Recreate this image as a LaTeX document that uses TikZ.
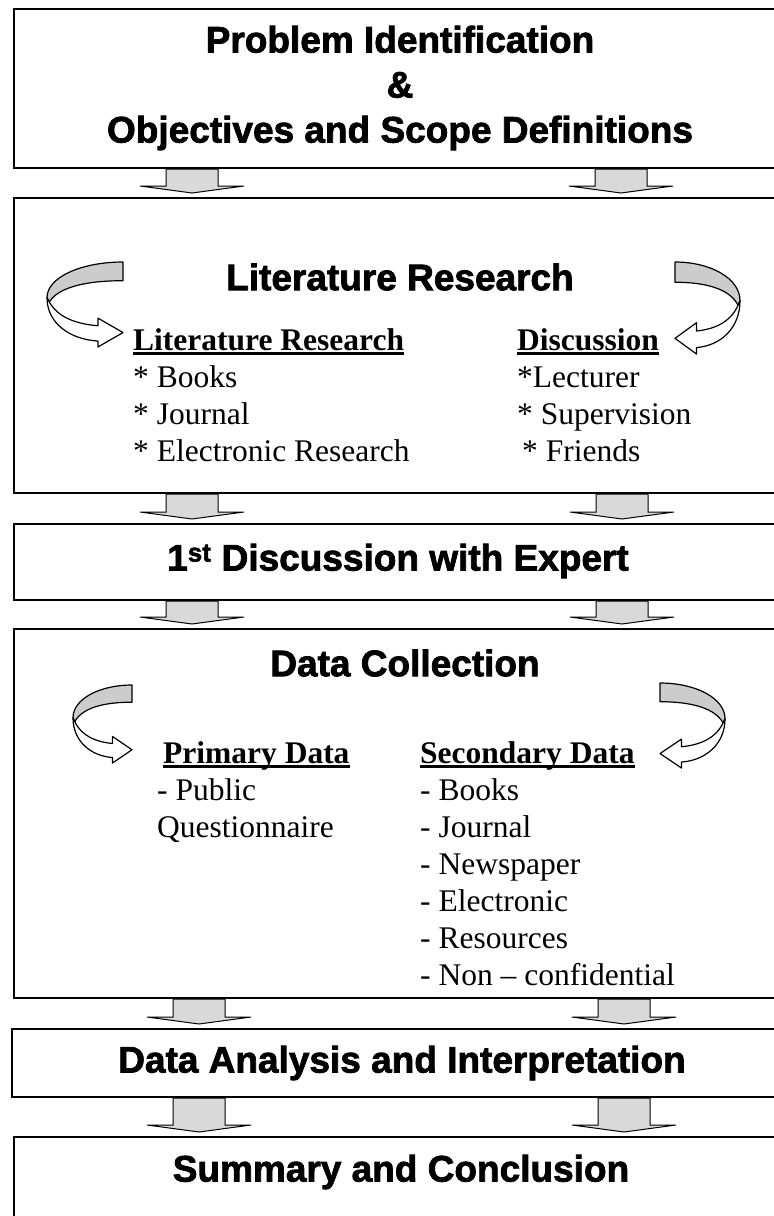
\documentclass[tikz,border=0pt]{standalone}
\usepackage{fontspec}
\setmainfont{Liberation Serif}
\newfontfamily\headfont[FakeBold=2]{Liberation Sans}
\usetikzlibrary{calc}

% underlined column heading
\newcommand{\colhead}[1]{\setbox0\hbox{\bfseries #1}\rlap{\rule[-5pt]{\wd0}{2.6pt}}\box0}

% curved ribbon arrow, #1,#2 = corner, #3,#4 = width, height (negative width mirrors it)
\newcommand{\turnarrow}[4]{%
  \begin{scope}[shift={(#1,#2)},xscale=#3,yscale=#4]
    \fill[ribbon] (1,0) .. controls (0.45,0) and (0,0.18) .. (0,0.42)
      -- (0.03,0.47) .. controls (0.15,0.3) and (0.5,0.22) .. (1,0.22) -- cycle;
    \draw[turn] (1,0) .. controls (0.45,0) and (0,0.18) .. (0,0.42)
      -- (0.03,0.47) .. controls (0.15,0.3) and (0.5,0.22) .. (1,0.22) -- cycle;
    \draw[turn,fill=white] (0.03,0.47) .. controls (0.15,0.66) and (0.4,0.73) .. (0.67,0.75)
      -- (0.67,0.66) -- (1,0.83) -- (0.67,1) -- (0.67,0.93)
      .. controls (0.3,0.91) and (0,0.72) .. (0,0.42) -- cycle;
  \end{scope}}

% block arrow from the bottom of #1 to the top of #2, at x = #3
\newcommand{\flowarrow}[3]{%
  \path[flow] let \p1=(#1.south), \p2=(#2.north) in
    (#3pt-26pt,\y1) -- (#3pt+26pt,\y1) -- (#3pt+26pt,\y2+11pt)
    -- (#3pt+52pt,\y2+11pt) -- (#3pt,\y2+4pt) -- (#3pt-52pt,\y2+11pt)
    -- (#3pt-26pt,\y2+11pt) -- cycle;}

\begin{document}
\begin{tikzpicture}[x=1pt,y=-1pt]
    \tikzstyle{stage}=[draw=black,line width=2pt,anchor=north west,inner sep=0pt]
    \tikzstyle{title}=[font=\headfont\bfseries\fontsize{37}{45}\selectfont,align=center,inner sep=0pt]
    \tikzstyle{list}=[font=\fontsize{31.5}{37}\selectfont,align=left,anchor=north west,inner sep=0pt]
    \tikzstyle{flow}=[draw=black,line width=1pt,fill=black!15,line join=miter]
    \tikzstyle{turn}=[draw=black,line width=1.2pt,line join=round]
    \tikzstyle{ribbon}=[fill=black!20]

    \useasboundingbox[fill=white] (0,0) rectangle (774,1216);
    \clip (0,0) rectangle (774,1216);

    % stages
    \node[stage,minimum width=780pt,minimum height=159pt] (define)  at (13,8) {};
    \node[stage,minimum width=780pt,minimum height=295pt] (review)  at (13,197) {};
    \node[stage,minimum width=780pt,minimum height=76pt]  (expert)  at (13,523) {};
    \node[stage,minimum width=780pt,minimum height=369pt] (collect) at (13,628) {};
    \node[stage,minimum width=782pt,minimum height=68pt]  (analyse) at (11,1028) {};
    \node[stage,minimum width=780pt,minimum height=120pt] (sum)     at (13,1136) {};

    % stage titles
    \node[title] (defineT)  at (400,88)   {Problem Identification\\\&\\Objectives and Scope Definitions};
    \node[title] (reviewT)  at (400,277)  {Literature Research};
    \node[title] (expertT)  at (398,561)  {1\textsuperscript{st} Discussion with Expert};
    \node[title] (collectT) at (405,663)  {Data Collection};
    \node[title] (analyseT) at (402,1063) {Data Analysis and Interpretation};
    \node[title] (sumT)     at (401,1172) {Summary and Conclusion};

    % literature research lists
    \node[list] (litL) at (133,328) {\colhead{Literature Research}\\* Books\\* Journal\\* Electronic Research};
    \node[list] (litR) at (517,328) {\colhead{Discussion}\\*Lecturer\\* Supervision\\\hspace{5pt}* Friends};

    % data collection lists
    \node[list] (dataL) at (157,741) {\hspace{6pt}\colhead{Primary Data}\\- Public\\Questionnaire};
    \node[list] (dataR) at (420,741) {\colhead{Secondary Data}\\- Books\\- Journal\\- Newspaper\\- Electronic\\- Resources\\- Non -- confidential};

    % curved arrows
    \turnarrow{47}{262}{76}{85}
    \turnarrow{740}{262}{-65}{92}
    \turnarrow{73}{685}{59}{78}
    \turnarrow{725}{683}{-65}{85}

    % block arrows
    \flowarrow{define}{review}{192}
    \flowarrow{define}{review}{621}
    \flowarrow{review}{expert}{192}
    \flowarrow{review}{expert}{622}
    \flowarrow{expert}{collect}{192}
    \flowarrow{expert}{collect}{622}
    \flowarrow{collect}{analyse}{199}
    \flowarrow{collect}{analyse}{624}
    \flowarrow{analyse}{sum}{199}
    \flowarrow{analyse}{sum}{624}
\end{tikzpicture}
\end{document}
